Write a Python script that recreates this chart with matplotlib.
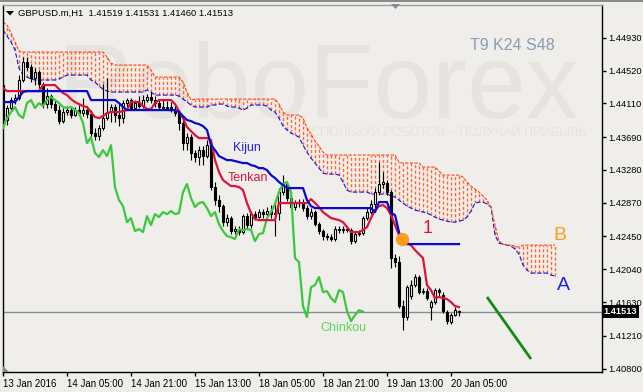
import numpy as np
import matplotlib
matplotlib.use("Agg")
import matplotlib.pyplot as plt
from matplotlib.patches import Polygon, Rectangle

plt.rcParams['font.family'] = ['Liberation Sans', 'DejaVu Sans']

# ---------------- data ----------------
time_labels = ['13 Jan 2016', '14 Jan 05:00', '14 Jan 21:00', '15 Jan 13:00',
               '18 Jan 05:00', '18 Jan 21:00', '19 Jan 13:00', '20 Jan 05:00']
time_label_bars = [0, 16, 32, 48, 64, 80, 96, 112]
price_ticks = [1.44930, 1.44520, 1.44110, 1.43690, 1.43280, 1.42870,
               1.42450, 1.42040, 1.41630, 1.41210, 1.40800]

open_ = [1.44339, 1.43902, 1.44052, 1.44152, 1.44177, 1.44402, 1.44626, 1.44564, 1.44427, 1.44501,
         1.44352, 1.44102, 1.44202, 1.44102, 1.44027, 1.43890, 1.44002, 1.44027, 1.43965, 1.44027,
         1.43990, 1.44027, 1.43977, 1.43740, 1.43703, 1.43803, 1.43927, 1.44002, 1.44065, 1.43965,
         1.43927, 1.44115, 1.44152, 1.44052, 1.44115, 1.44077, 1.44152, 1.44189, 1.44152, 1.44115,
         1.44065, 1.44052, 1.44065, 1.44027, 1.43990, 1.43865, 1.43615, 1.43690, 1.43491, 1.43441,
         1.43528, 1.43453, 1.43590, 1.43066, 1.42904, 1.42829, 1.42629, 1.42679, 1.42517, 1.42542,
         1.42505, 1.42704, 1.42592, 1.42729, 1.42692, 1.42754, 1.42729, 1.42767, 1.42729, 1.42742,
         1.43004, 1.43104, 1.42929, 1.42817, 1.42867, 1.42879, 1.42804, 1.42704, 1.42754, 1.42604,
         1.42517, 1.42455, 1.42442, 1.42417, 1.42542, 1.42530, 1.42542, 1.42530, 1.42392, 1.42480,
         1.42492, 1.42679, 1.42754, 1.42854, 1.43004, 1.43104, 1.43116, 1.43004, 1.42180, 1.42130,
         1.41581, 1.41444, 1.41706, 1.41843, 1.41943, 1.41756, 1.41768, 1.41569, 1.41631, 1.41781,
         1.41719, 1.41506, 1.41381, 1.41469, 1.41519]
high = [1.44402, 1.44090, 1.44189, 1.44227, 1.44464, 1.44689, 1.44689, 1.44601, 1.44551, 1.44526,
        1.44377, 1.44302, 1.44227, 1.44152, 1.44090, 1.44052, 1.44077, 1.44077, 1.44065, 1.44090,
        1.44177, 1.44077, 1.44027, 1.43803, 1.43840, 1.44352, 1.44427, 1.44102, 1.44102, 1.44102,
        1.44152, 1.44177, 1.44177, 1.44152, 1.44202, 1.44214, 1.44227, 1.44252, 1.44202, 1.44164,
        1.44152, 1.44140, 1.44127, 1.44102, 1.44027, 1.43902, 1.43740, 1.43728, 1.43528, 1.43578,
        1.43578, 1.43653, 1.43628, 1.43129, 1.42966, 1.42854, 1.42729, 1.42704, 1.42580, 1.42580,
        1.42729, 1.42742, 1.42767, 1.42767, 1.42792, 1.42792, 1.42817, 1.42842, 1.42867, 1.43054,
        1.43216, 1.43129, 1.42991, 1.42904, 1.42916, 1.42916, 1.42842, 1.42804, 1.42779, 1.42629,
        1.42542, 1.42492, 1.42480, 1.42580, 1.42580, 1.42580, 1.42580, 1.42555, 1.42517, 1.42530,
        1.42704, 1.42804, 1.42904, 1.43054, 1.43378, 1.43253, 1.43154, 1.43029, 1.42230, 1.42205,
        1.41656, 1.41843, 1.41906, 1.41980, 1.41968, 1.41806, 1.41806, 1.41656, 1.41806, 1.41806,
        1.41756, 1.41531, 1.41494, 1.41569, 1.41531]
low = [1.43840, 1.43840, 1.44027, 1.44102, 1.44152, 1.44377, 1.44526, 1.44377, 1.44339, 1.44302,
       1.44052, 1.44052, 1.44052, 1.43990, 1.43852, 1.43865, 1.43965, 1.43927, 1.43952, 1.43952,
       1.43952, 1.43927, 1.43690, 1.43653, 1.43653, 1.43778, 1.43902, 1.43877, 1.43877, 1.43827,
       1.43865, 1.44052, 1.44027, 1.44027, 1.44052, 1.44052, 1.44127, 1.44115, 1.44065, 1.44040,
       1.44027, 1.44027, 1.44002, 1.43952, 1.43778, 1.43528, 1.43528, 1.43403, 1.43378, 1.43341,
       1.43341, 1.43428, 1.43029, 1.42842, 1.42754, 1.42580, 1.42580, 1.42480, 1.42480, 1.42467,
       1.42480, 1.42555, 1.42555, 1.42654, 1.42679, 1.42679, 1.42704, 1.42679, 1.42455, 1.42654,
       1.42966, 1.42892, 1.42779, 1.42779, 1.42817, 1.42767, 1.42667, 1.42667, 1.42580, 1.42480,
       1.42405, 1.42405, 1.42392, 1.42392, 1.42492, 1.42492, 1.42505, 1.42355, 1.42367, 1.42455,
       1.42467, 1.42654, 1.42729, 1.42804, 1.42966, 1.43054, 1.42966, 1.42055, 1.42068, 1.41556,
       1.41282, 1.41406, 1.41669, 1.41818, 1.41731, 1.41731, 1.41656, 1.41406, 1.41606, 1.41706,
       1.41494, 1.41356, 1.41356, 1.41456, 1.41460]
close = [1.43902, 1.44052, 1.44152, 1.44177, 1.44402, 1.44626, 1.44564, 1.44427, 1.44501, 1.44352,
         1.44102, 1.44202, 1.44102, 1.44027, 1.43890, 1.44002, 1.44027, 1.43965, 1.44027, 1.43990,
         1.44027, 1.43977, 1.43740, 1.43703, 1.43803, 1.43927, 1.44002, 1.44065, 1.43965, 1.43927,
         1.44115, 1.44152, 1.44052, 1.44115, 1.44077, 1.44152, 1.44189, 1.44152, 1.44115, 1.44065,
         1.44052, 1.44065, 1.44027, 1.43990, 1.43865, 1.43615, 1.43690, 1.43491, 1.43441, 1.43528,
         1.43453, 1.43590, 1.43066, 1.42904, 1.42829, 1.42629, 1.42679, 1.42517, 1.42542, 1.42505,
         1.42704, 1.42592, 1.42729, 1.42692, 1.42754, 1.42729, 1.42767, 1.42729, 1.42742, 1.43004,
         1.43104, 1.42929, 1.42817, 1.42867, 1.42879, 1.42804, 1.42704, 1.42754, 1.42604, 1.42517,
         1.42455, 1.42442, 1.42417, 1.42542, 1.42530, 1.42542, 1.42530, 1.42392, 1.42480, 1.42492,
         1.42679, 1.42754, 1.42854, 1.43004, 1.43104, 1.43129, 1.43004, 1.42180, 1.42130, 1.41581,
         1.41444, 1.41818, 1.41843, 1.41943, 1.41756, 1.41768, 1.41681, 1.41631, 1.41781, 1.41756,
         1.41519, 1.41394, 1.41469, 1.41531, 1.41513]

tenkan = ([1.44302, 1.44264] + [1.44264] * 8 + [1.44339] * 4 +
          [1.44289, 1.44239, 1.44214, 1.44164, 1.44127, 1.44102, 1.44077, 1.44065,
           1.44002, 1.43940, 1.43927, 1.43952, 1.43990] + [1.44002] * 3 +
          [1.44015, 1.44027] + [1.44127] * 3 + [1.44077, 1.44040, 1.44040, 1.44115] +
          [1.44152] * 4 + [1.44102, 1.44015, 1.43927, 1.43815, 1.43765, 1.43715] +
          [1.43678] * 3 + [1.43653, 1.43403, 1.43253, 1.43154, 1.43116, 1.43079, 1.43079,
                           1.43066, 1.43029, 1.42867, 1.42742, 1.42667] +
          [1.42654] * 5 + [1.42867] * 8 +
          [1.42916, 1.42867, 1.42817, 1.42754, 1.42717, 1.42679, 1.42667, 1.42654,
           1.42629, 1.42567] + [1.42505] * 3 +
          [1.42530, 1.42567, 1.42679, 1.42779, 1.42829, 1.42842, 1.42804, 1.42717,
           1.42592, 1.42467, 1.42380, 1.42367, 1.42342, 1.42280, 1.42230, 1.42180,
           1.41843, 1.41781, 1.41681, 1.41694, 1.41681, 1.41669, 1.41631, 1.41581, 1.41569])

kijun = ([1.44127] * 4 + [1.44189, 1.44252] + [1.44264] * 16 + [1.44152] * 7 +
         [1.44115, 1.44065] + [1.44027] * 13 +
         [1.44002, 1.43952, 1.43902, 1.43890, 1.43865, 1.43852, 1.43827, 1.43778,
          1.43590, 1.43528, 1.43453, 1.43428, 1.43403, 1.43403, 1.43391, 1.43378,
          1.43366, 1.43366, 1.43341, 1.43328, 1.43303, 1.43303, 1.43278, 1.43216,
          1.43179, 1.43129, 1.43091] + [1.43054] * 5 + [1.42904, 1.42829] +
         [1.42804] * 15 + [1.42754] + [1.42879] * 3 + [1.42742, 1.42717, 1.42505] +
         [1.42355] * 15)

span_a = ([1.45026, 1.44951, 1.44876, 1.44776, 1.44551, 1.44464, 1.44439, 1.44414] +
          [1.44402] * 6 + [1.44414, 1.44439] + [1.44464] * 6 +
          [1.44402, 1.44377, 1.44327, 1.44289, 1.44264] + [1.44252] * 9 +
          [1.44277, 1.44252] + [1.44214] * 6 + [1.44202, 1.44164, 1.44127, 1.44090] +
          [1.44065] * 4 + [1.44090] * 2 + [1.44102] * 2 + [1.44077] + [1.44065] * 2 +
          [1.44052, 1.44027, 1.44052] + [1.44090] * 4 +
          [1.44077, 1.44027, 1.44002, 1.43927, 1.43827, 1.43778, 1.43740, 1.43715,
           1.43690, 1.43590, 1.43503, 1.43428, 1.43366, 1.43303, 1.43241] +
          [1.43228] * 3 + [1.43216, 1.43129, 1.43029] + [1.43004] * 5 + [1.42979] * 5 +
          [1.42954, 1.42941, 1.42904, 1.42867, 1.42829, 1.42804, 1.42779, 1.42767,
           1.42754, 1.42742, 1.42717, 1.42692, 1.42667, 1.42654, 1.42642] +
          [1.42629] * 2 + [1.42642, 1.42654, 1.42692, 1.42767, 1.42867] + [1.42879] * 2 +
          [1.42854, 1.42817, 1.42467, 1.42367, 1.42355, 1.42342, 1.42330, 1.42292,
           1.42230, 1.42093, 1.42030] + [1.41993] * 5 + [1.41968, 1.41956])

span_b = ([1.45125, 1.45088, 1.44988, 1.44876, 1.44764] + [1.44751] * 21 +
          [1.44689, 1.44614] + [1.44589] * 9 + [1.44526] + [1.44439] * 7 +
          [1.44377, 1.44252, 1.44152] + [1.44164] * 21 + [1.44102, 1.44002] +
          [1.43965] * 4 + [1.43927, 1.43803, 1.43728, 1.43640, 1.43578, 1.43503] +
          [1.43466] * 18 + [1.43378] + [1.43366] * 5 + [1.43316] * 4 + [1.43266] +
          [1.43216] * 5 +
          [1.43191, 1.43129, 1.43079, 1.43041, 1.43004, 1.42954, 1.42904, 1.42817,
           1.42592, 1.42392, 1.42355] + [1.42342] * 2 + [1.42330, 1.42317] +
          [1.42342] * 9)

chinkou_shift = 24
last_price = 1.41513
signal_bar, signal_price = 99.7, 1.42418
forecast_bars = [121, 132]
forecast_prices = [1.41695, 1.40921]

# ---------------- figure ----------------
W, H = 643, 392
BG = '#EFEEEA'
fig = plt.figure(figsize=(W / 100, H / 100), dpi=100)
fig.patch.set_facecolor(BG)


def fx(px):
    return px / W


def fy(py):
    return 1 - py / H


ax = fig.add_axes([fx(3), fy(372), fx(599), 367 / H])
ax.set_facecolor(BG)
ax.set_xlim(0, 149.75)
ax.set_ylim(1.40759, 1.45338)

# watermark
ax.text(fx(57), fy(118), 'RoboForex', transform=fig.transFigure, fontsize=76,
        color='#E6E4E0', ha='left', va='baseline', zorder=0,
        family=['Liberation Sans'])
ax.text(fx(587), fy(133), 'ИСПОЛЬЗУЙ РОБОТОВ – ПОЛУЧАЙ ПРИБЫЛЬ', transform=fig.transFigure,
        fontsize=9.2, color='#E6E4E0', ha='right', va='center', zorder=0)

o = np.array(open_)
h = np.array(high)
l = np.array(low)
c = np.array(close)
bars = np.arange(len(c))
cb = np.arange(len(span_a))
sa = np.array(span_a)
sb = np.array(span_b)

# cloud: one vertical dashed stroke per bar between the two spans
hx = np.column_stack([cb, cb, np.full(len(cb), np.nan)]).ravel()
hy = np.column_stack([sa, sb, np.full(len(cb), np.nan)]).ravel()
ax.plot(hx, hy, color='#FF6633', lw=1.0, ls=(0, (2.2, 1.6)), zorder=1)
ax.plot(cb, sa, color='#1010E6', lw=0.8, ls=(0, (4, 2)), zorder=2)
ax.plot(cb, sb, color='#FF4A14', lw=0.8, ls=(0, (3, 1.2)), zorder=2)

# candles
ax.vlines(bars, l, h, colors='black', linewidth=0.8, zorder=3)
up = c >= o
ax.bar(bars, c - o, bottom=o, width=0.5,
       color=np.where(up, 'white', 'black'), edgecolor='black', linewidth=0.8, zorder=4)

# indicator lines
ax.plot(bars[chinkou_shift:] - chinkou_shift, c[chinkou_shift:], color='#3CC83C', lw=1.6, zorder=5)
ax.plot(bars, tenkan, color='#DC143C', lw=1.6, zorder=5)
ax.plot(bars, kijun, color='#0A0ACD', lw=1.6, zorder=6)

ax.axhline(last_price, color='#878B96', lw=1.0, zorder=2)
ax.plot([signal_bar], [signal_price], 'o', ms=8.5, color='#FF9A1A', zorder=7)
ax.plot(forecast_bars, forecast_prices, color='#138A13', lw=2.0, zorder=7,
        solid_capstyle='butt')

# labels
def ptext(px, py, s, color, size, **kw):
    ax.text(fx(px), fy(py), s, transform=fig.transFigure, color=color,
            fontsize=size, ha='left', va='center', zorder=8, **kw)


ptext(470, 46, 'T9 K24 S48', '#8A9CB5', 11.5)
ptext(233, 148, 'Kijun', '#2323E6', 9)
ptext(228, 178, 'Tenkan', '#DC143C', 9)
ptext(320, 328, 'Chinkou', '#5CD65C', 9)
ptext(423, 229, '1', '#DC143C', 13)
ptext(553, 235, 'B', '#FF9A1A', 14)
ptext(557, 285, 'A', '#1E1EEB', 14)

# axes styling
for side in ['left', 'right', 'bottom']:
    ax.spines[side].set_color('black')
    ax.spines[side].set_linewidth(1.0)
ax.spines['top'].set_color('#A0A0A0')
ax.spines['top'].set_linewidth(1.0)

ax.yaxis.tick_right()
ax.set_yticks(price_ticks)
ax.set_yticklabels(['%.5f' % v for v in price_ticks])
ax.tick_params(axis='y', direction='out', length=3, width=1, pad=1.5, labelsize=6.7,
               colors='black')
ax.set_xticks(time_label_bars)
ax.set_xticklabels(time_labels, ha='left')
ax.tick_params(axis='x', direction='out', length=3, width=1, pad=2, labelsize=7.0,
               colors='black')

ax.text(1.0025, last_price, '1.41513', transform=ax.get_yaxis_transform(),
        color='white', fontsize=6.7, ha='left', va='center', fontweight='bold',
        bbox=dict(facecolor='black', edgecolor='none', pad=1.2), zorder=9, clip_on=False)

# header
fig.patches.append(Rectangle((0, fy(2)), 1, 2 / H, transform=fig.transFigure,
                             facecolor='#8A8A8A', edgecolor='none'))
fig.patches.append(Polygon([(fx(6), fy(11)), (fx(14), fy(11)), (fx(10), fy(15.5))],
                           closed=True, transform=fig.transFigure, facecolor='black',
                           edgecolor='none'))
fig.text(fx(18), fy(13), 'GBPUSD.m,H1  1.41519 1.41531 1.41460 1.41513',
         fontsize=6.8, color='black', ha='left', va='center')
fig.patches.append(Polygon([(fx(391), fy(4)), (fx(400), fy(4)), (fx(395.5), fy(9))],
                           closed=True, transform=fig.transFigure, facecolor='#7F8C99',
                           edgecolor='none'))
fig.patches.append(Polygon([(fx(3), fy(366)), (fx(3), fy(372)), (fx(9), fy(372))],
                           closed=True, transform=fig.transFigure, facecolor='#7F8C99',
                           edgecolor='none'))

fig.savefig('out.png', dpi=100, facecolor=BG)
